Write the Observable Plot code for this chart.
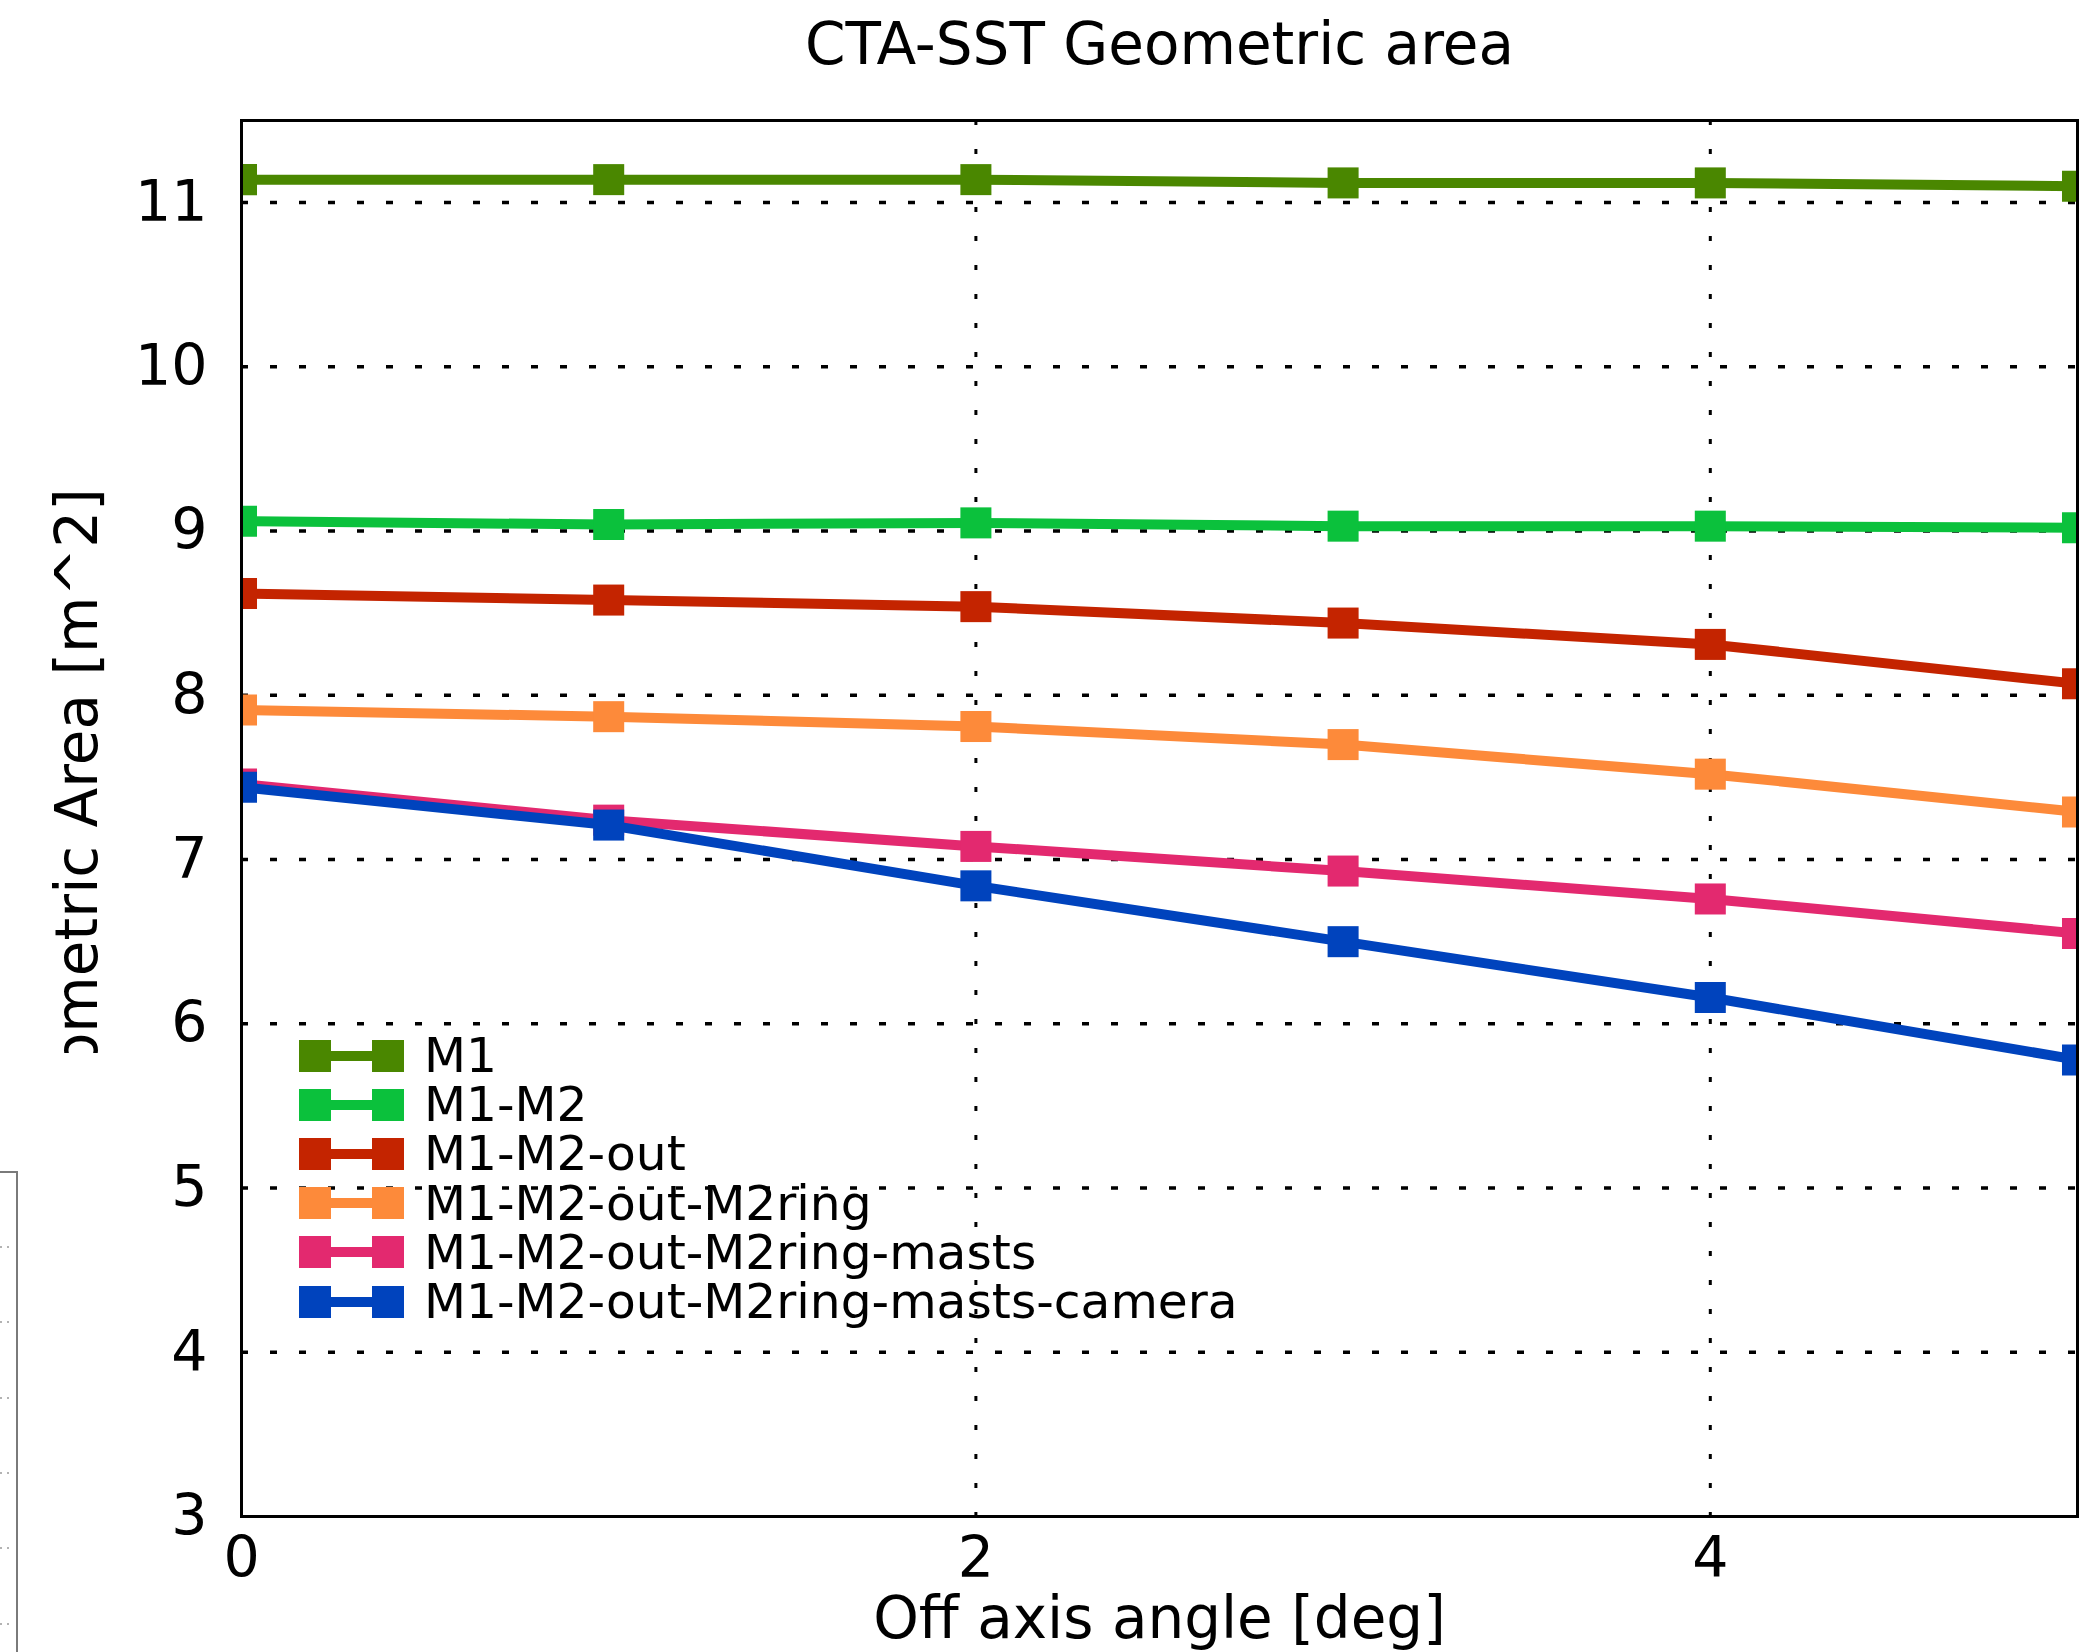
<!DOCTYPE html>
<html>
<head>
<meta charset="utf-8">
<script src="https://cdn.jsdelivr.net/npm/d3@7"></script>
<script src="https://cdn.jsdelivr.net/npm/@observablehq/plot@0.6"></script>
<style>
  html, body { margin: 0; padding: 0; background: #fff; }
  #wrap { position: relative; width: 2100px; height: 1652px; overflow: hidden; font-family: "DejaVu Sans", sans-serif; }
  #legend { position: absolute; left: 299px; top: 1031px; }
  .row { height: 49.2px; display: flex; align-items: center; }
  .row span { font-size: 48.7px; line-height: 49px; margin-left: 20px; color: #000; white-space: nowrap; }
</style>
</head>
<body>
<div id="wrap"></div>
<script>
// ---- data ----
const angles = [0, 1, 2, 3, 4, 5];
const seriesNames = ["M1", "M1-M2", "M1-M2-out", "M1-M2-out-M2ring", "M1-M2-out-M2ring-masts", "M1-M2-out-M2ring-masts-camera"];
const m1 = [11.14, 11.14, 11.14, 11.12, 11.12, 11.10];
const m1m2 = [9.06, 9.04, 9.05, 9.03, 9.03, 9.02];
const m1m2out = [8.62, 8.58, 8.54, 8.44, 8.31, 8.07];
const m1m2outRing = [7.91, 7.87, 7.81, 7.70, 7.52, 7.29];
const m1m2outRingMasts = [7.46, 7.24, 7.08, 6.93, 6.76, 6.55];
const m1m2outRingMastsCamera = [7.44, 7.21, 6.84, 6.50, 6.16, 5.78];
const xTicks = [0, 2, 4];
const yTicks = [3, 4, 5, 6, 7, 8, 9, 10, 11];
const titleText = "CTA-SST Geometric area";
const xLabel = "Off axis angle [deg]";
const yLabel = "Geometric Area [m^2]";

// ---- styles ----
const colors = ["#4a8700", "#0bc13c", "#c42400", "#fd8a3a", "#e3296f", "#0043bd"];
const allValues = [m1, m1m2, m1m2out, m1m2outRing, m1m2outRingMasts, m1m2outRingMastsCamera];

const rows = [];
seriesNames.forEach((name, s) => {
  angles.forEach((a, i) => rows.push({series: name, angle: a, area: allValues[s][i]}));
});

const seriesMarks = [];
seriesNames.forEach((name, s) => {
  const d = rows.filter(r => r.series === name);
  seriesMarks.push(Plot.line(d, {x: "angle", y: "area", stroke: colors[s], strokeWidth: 10, clip: true}));
  seriesMarks.push(Plot.dot(d, {x: "angle", y: "area", symbol: "square", r: 17.5, fill: colors[s], stroke: "none", clip: true}));
});

const chart = Plot.plot({
  width: 2100,
  height: 1652,
  marginTop: 120,
  marginBottom: 136,
  marginLeft: 241,
  marginRight: 23,
  style: {fontFamily: "DejaVu Sans, sans-serif", fontSize: "57px", color: "#000", background: "#fff"},
  x: {domain: [0, 5]},
  y: {domain: [3, 11.5]},
  marks: [
    Plot.gridY(yTicks.filter(t => t > 3), {stroke: "#000", strokeOpacity: 1, strokeWidth: 3.5, strokeDasharray: "7,22"}),
    Plot.gridX(xTicks.filter(t => t > 0), {stroke: "#000", strokeOpacity: 1, strokeWidth: 3, strokeDasharray: "5,24"}),
    Plot.axisY(yTicks, {tickSize: 0, tickPadding: 34, label: null, tickFormat: d => String(d), fontSize: 57}),
    Plot.axisX(xTicks, {tickSize: 0, tickPadding: 20, label: null, tickFormat: d => String(d), fontSize: 57}),
    ...seriesMarks,
    Plot.frame({stroke: "#000", strokeWidth: 3}),
    Plot.text([titleText], {text: d => d, frameAnchor: "top", lineAnchor: "bottom", dy: -57, fontSize: 58}),
    Plot.text([xLabel], {text: d => d, frameAnchor: "bottom", lineAnchor: "bottom", dy: 121, fontSize: 58}),
    Plot.text([yLabel], {text: d => d, frameAnchor: "left", textAnchor: "middle", lineAnchor: "bottom", rotate: -90, dx: -145, fontSize: 58})
  ]
});

document.getElementById("wrap").appendChild(chart);

// partial covering of the y label and the clipped neighbouring panel at the left edge
const svg = d3.select(chart);
svg.append("rect").attr("x", 0).attr("y", 1053).attr("width", 118).attr("height", 600).attr("fill", "#fff");
svg.append("path").attr("d", "M0,1172H17V1652").attr("fill", "none").attr("stroke", "#7a7a7a").attr("stroke-width", 2);
[1247, 1322, 1398, 1473, 1548, 1624].forEach(y => {
  svg.append("line").attr("x1", 0).attr("x2", 14).attr("y1", y).attr("y2", y)
    .attr("stroke", "#9a9a9a").attr("stroke-width", 1.5).attr("stroke-dasharray", "2,5");
});

// legend
const legend = document.createElement("div");
legend.id = "legend";
seriesNames.forEach((name, s) => {
  const row = document.createElement("div");
  row.className = "row";
  const ns = "http://www.w3.org/2000/svg";
  const h = document.createElementNS(ns, "svg");
  h.setAttribute("width", 105); h.setAttribute("height", 32);
  const ln = document.createElementNS(ns, "line");
  ln.setAttribute("x1", 16); ln.setAttribute("x2", 89); ln.setAttribute("y1", 16); ln.setAttribute("y2", 16);
  ln.setAttribute("stroke", colors[s]); ln.setAttribute("stroke-width", 10);
  h.appendChild(ln);
  [0, 73].forEach(x => {
    const r = document.createElementNS(ns, "rect");
    r.setAttribute("x", x); r.setAttribute("y", 0); r.setAttribute("width", 32); r.setAttribute("height", 32);
    r.setAttribute("fill", colors[s]);
    h.appendChild(r);
  });
  row.appendChild(h);
  const t = document.createElement("span");
  t.textContent = name;
  row.appendChild(t);
  legend.appendChild(row);
});
document.getElementById("wrap").appendChild(legend);
</script>
</body>
</html>
